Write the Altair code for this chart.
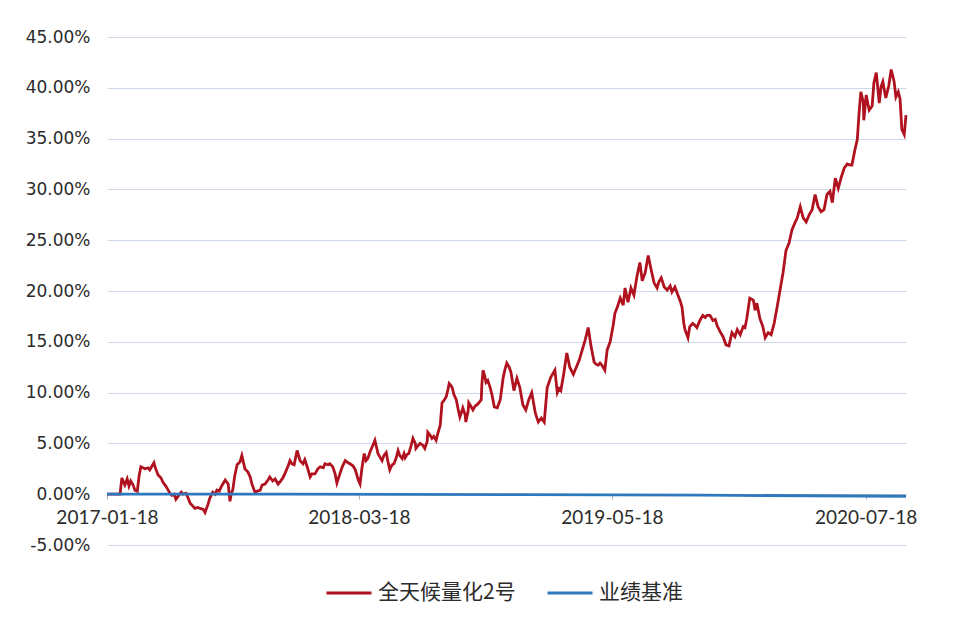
import altair as alt
import pandas as pd

SERIES_FUND = "全天候量化2号"
SERIES_BENCH = "业绩基准"
START_DATE = "2017-01-18"
END_DATE = "2020-09-24"
X_TICK_DATES = ["2017-01-18", "2018-03-18", "2019-05-18", "2020-07-18"]
Y_TICKS = [-5, 0, 5, 10, 15, 20, 25, 30, 35, 40, 45]

# days after START_DATE
FUND_DAYS = [
    0, 10, 22, 25, 30, 34, 37, 40, 44, 47, 51, 54, 57, 64, 69, 72, 79, 82, 86, 91,
    94, 99, 103, 106, 109, 113, 116, 121, 125, 128, 133, 136, 140, 145, 148, 153, 157, 162, 165, 170,
    173, 178, 182, 185, 189, 192, 195, 199, 204, 207, 209, 212, 215, 219, 224, 227, 231, 232, 237, 241,
    244, 249, 253, 258, 261, 266, 271, 274, 279, 283, 288, 291, 296, 300, 305, 308, 311, 315, 320,
    325, 330, 333, 337, 342, 345, 350, 355, 359, 364, 367, 372, 375, 380, 384, 387, 392, 396, 401, 406,
    409, 414, 418, 423, 426, 429, 433, 436, 439, 443, 446, 451, 455, 456, 460, 463, 466, 470, 473, 476,
    480, 483, 487, 490, 493, 497, 500, 502, 505, 508, 512, 515, 519, 520, 524, 527, 532, 535, 539, 540,
    544, 547, 550, 554, 557, 561, 564, 567, 571, 574, 576, 579, 581, 584, 588, 591, 594, 598, 599, 603,
    604, 608, 609, 613, 616, 620, 623, 626, 630, 631, 633, 636, 638, 641, 645, 648, 652,
    657, 662, 667, 670, 673, 677, 680, 685, 690, 695, 700, 705, 710, 715, 721, 726, 731, 736, 741, 744,
    747, 751, 754, 758, 761, 764, 769, 774, 779, 785, 790, 795, 800, 805, 810, 815, 820, 823, 827, 830,
    833, 838, 842, 847, 852, 855, 859, 864, 869, 872, 877, 882, 887, 892, 897, 901, 906, 911, 916, 921,
    926, 929, 933, 938, 943, 948, 951, 956, 961, 965, 968, 971, 973, 978, 981, 986, 990, 993, 998, 1003,
    1007, 1010, 1015, 1020, 1024, 1027, 1032, 1037, 1042, 1047, 1052, 1057, 1061, 1066, 1071, 1074, 1077, 1082, 1088, 1091,
    1094, 1099, 1104, 1108, 1113, 1118, 1123, 1128, 1133, 1138, 1143, 1148, 1153, 1158, 1162, 1167, 1172, 1177, 1182, 1187,
    1192, 1197, 1202, 1207, 1212, 1217, 1221, 1226, 1231, 1236, 1241, 1246, 1251, 1254, 1259, 1263, 1266, 1269, 1273, 1274,
    1278, 1283, 1288, 1291, 1295, 1300, 1303, 1306, 1311, 1316, 1320, 1325, 1328, 1332, 1335, 1338, 1342, 1345,
]

# cumulative return, percent
FUND_VALUES = [
    0.0, 0.0, 0.0, 1.6, 0.9, 1.5, 0.8, 1.3, 0.9, 0.4, 0.3, 1.8, 2.7, 2.5, 2.6, 2.4, 3.1, 2.5, 1.9, 1.6,
    1.2, 0.8, 0.4, 0.1, -0.1, 0.0, -0.5, -0.1, 0.2, 0.0, 0.1, -0.3, -0.9, -1.2, -1.4, -1.3, -1.4, -1.5, -1.8, -1.0,
    -0.4, 0.2, 0.0, 0.4, 0.3, 0.7, 1.0, 1.4, 1.0, -0.7, 0.0, 0.5, 1.8, 2.9, 3.2, 3.8, 2.8, 2.5, 2.2, 1.7,
    1.0, 0.2, 0.3, 0.4, 0.9, 1.0, 1.4, 1.7, 1.3, 1.5, 1.0, 1.2, 1.6, 2.1, 2.8, 3.3, 3.0, 2.9, 4.3,
    3.3, 3.0, 3.4, 2.7, 1.7, 2.0, 2.0, 2.5, 2.7, 2.6, 3.0, 2.9, 3.0, 2.7, 2.0, 1.1, 2.0, 2.7, 3.3, 3.1,
    3.0, 2.8, 2.4, 1.4, 1.0, 2.5, 4.0, 3.3, 3.5, 4.2, 4.6, 5.3, 4.3, 4.0, 3.6, 3.3, 3.8, 4.1, 3.2, 2.4,
    2.9, 3.0, 3.6, 4.3, 3.8, 3.5, 4.0, 3.6, 3.9, 4.0, 4.8, 5.5, 5.0, 4.5, 4.8, 5.0, 4.8, 4.5, 5.2, 6.1,
    5.8, 5.5, 5.7, 5.3, 6.0, 6.8, 9.0, 9.2, 9.6, 10.3, 10.9, 10.7, 10.5, 9.8, 9.3, 8.4, 7.6, 8.3, 8.5, 7.8,
    7.1, 8.2, 9.0, 8.6, 8.3, 8.7, 8.8, 9.0, 9.3, 10.8, 12.2, 11.6, 11.0, 11.2, 10.5, 9.8, 8.6,
    8.5, 9.3, 11.5, 12.3, 12.9, 12.5, 12.0, 10.2, 11.4, 10.5, 8.8, 8.3, 9.3, 10.0, 8.0, 7.1, 7.5, 7.1, 10.5, 11.0,
    11.5, 11.9, 12.2, 10.0, 10.4, 10.2, 11.9, 13.9, 12.5, 11.8, 12.5, 13.2, 14.2, 15.2, 16.4, 14.5, 13.0, 12.8, 12.7, 12.9,
    12.7, 12.2, 14.2, 15.0, 16.6, 17.8, 18.4, 19.3, 18.6, 20.3, 18.9, 20.3, 19.6, 21.4, 22.8, 21.0, 21.8, 23.5, 22.1, 20.8,
    20.3, 20.9, 21.3, 20.4, 20.1, 20.5, 19.9, 20.4, 19.6, 19.0, 18.4, 16.8, 16.2, 15.4, 16.5, 16.8, 16.6, 16.4, 17.1, 17.6,
    17.4, 17.6, 17.6, 17.1, 17.2, 16.6, 16.0, 15.5, 14.7, 14.6, 15.9, 15.5, 16.2, 15.7, 16.5, 16.4, 17.3, 19.3, 19.1, 18.1,
    18.8, 17.3, 16.5, 15.4, 15.9, 15.7, 16.8, 18.4, 20.1, 21.8, 24.0, 24.7, 26.0, 26.7, 27.2, 28.3, 27.2, 26.8, 27.5, 28.0,
    29.5, 28.3, 27.8, 28.0, 29.5, 29.8, 28.7, 31.1, 30.1, 31.2, 32.1, 32.5, 32.4, 32.4, 33.9, 34.9, 37.5, 39.6, 38.6, 36.8,
    39.3, 37.8, 38.2, 40.5, 41.5, 38.5, 40.1, 40.6, 39.0, 40.2, 41.8, 40.6, 39.1, 39.6, 38.9, 35.9, 35.4, 37.3,
]

BENCH_DAYS = [0, 300, 700, 1000, 1345]
BENCH_VALUES = [0.0, 0.0, -0.05, -0.1, -0.2]

start = pd.Timestamp(START_DATE)
fund = pd.DataFrame({
    "date": start + pd.to_timedelta(FUND_DAYS, unit="D"),
    "value": FUND_VALUES,
    "series": SERIES_FUND,
})
bench = pd.DataFrame({
    "date": start + pd.to_timedelta(BENCH_DAYS, unit="D"),
    "value": BENCH_VALUES,
    "series": SERIES_BENCH,
})


def dt(s):
    y, m, d = (int(p) for p in s.split("-"))
    return alt.DateTime(year=y, month=m, date=d)


TEXT_COLOR = "#2b2b2b"

x_enc = alt.X(
    "date:T",
    scale=alt.Scale(domain=[dt(START_DATE), dt(END_DATE)]),
    axis=alt.Axis(
        values=[dt(s) for s in X_TICK_DATES],
        format="%Y-%m-%d",
        offset=-51,
        grid=False,
        domainColor="#c8c8c8",
        tickColor="#b0b0b0",
        tickSize=5,
        labelPadding=9,
        labelFont="Lato",
        labelFontSize=19,
        labelColor=TEXT_COLOR,
        labelFlush=False,
        labelOverlap=False,
        title=None,
    ),
)

y_enc = alt.Y(
    "value:Q",
    scale=alt.Scale(domain=[-5, 45], nice=False, zero=False),
    axis=alt.Axis(
        values=Y_TICKS,
        labelExpr="(datum.value < 0 ? '-' : '') + format(abs(datum.value), '.2f') + '%'",
        domain=False,
        ticks=False,
        grid=True,
        gridColor="#cdd8e8",
        gridWidth=1,
        labelPadding=17,
        labelFont="DejaVu Sans",
        labelFontSize=17,
        labelColor=TEXT_COLOR,
        title=None,
    ),
)

color_enc = alt.Color(
    "series:N",
    scale=alt.Scale(domain=[SERIES_FUND, SERIES_BENCH], range=["#b0121f", "#2e78bd"]),
    legend=alt.Legend(
        orient="none",
        legendX=218,
        legendY=532,
        direction="horizontal",
        symbolType="stroke",
        symbolSize=2025,
        symbolStrokeWidth=2.8,
        labelFont="Noto Sans CJK SC",
        labelFontSize=21,
        labelColor=TEXT_COLOR,
        labelOffset=5,
        columnPadding=25,
        padding=0,
        title=None,
    ),
)

fund_line = alt.Chart(fund).mark_line(strokeWidth=2.8).encode(x=x_enc, y=y_enc, color=color_enc)
bench_line = alt.Chart(bench).mark_line(strokeWidth=2.8).encode(x=x_enc, y=y_enc, color=color_enc)

chart = (
    alt.layer(fund_line, bench_line)
    .properties(
        width=799,
        height=508,
        autosize=alt.AutoSizeParams(type="none"),
        padding={"left": 99, "top": 29, "right": 50, "bottom": 66},
        background="white",
    )
    .configure_view(strokeWidth=0)
)

chart.save("out.html", embed_options={"renderer": "svg", "actions": False})
